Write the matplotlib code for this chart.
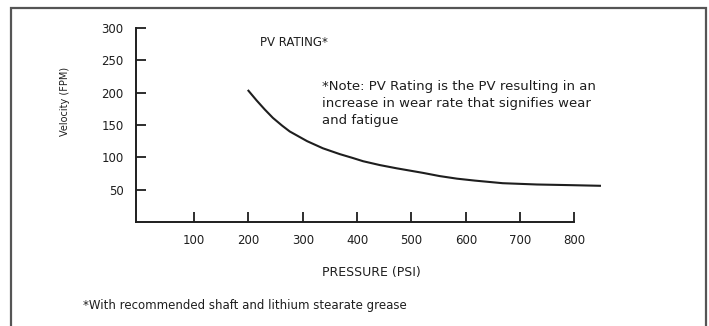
import matplotlib.pyplot as plt
from matplotlib.patches import Rectangle

# PV rating curve
pressure = [200, 215, 230, 245, 262, 276, 308, 337, 368, 392, 411, 442, 473,
            521, 552, 584, 617, 668, 731, 792, 847]
velocity = [203, 188, 174, 161, 149, 140, 125, 114, 105, 99, 94, 88, 83,
            76, 71, 67, 64, 60, 58, 57, 56]

x_ticks = [100, 200, 300, 400, 500, 600, 700, 800]
y_ticks = [50, 100, 150, 200, 250, 300]

INK = '#1e1e1e'
W, H = 709, 326

fig = plt.figure(figsize=(W / 100, H / 100), dpi=100)
fig.patch.set_facecolor('white')

# outer frame of the figure
fig.patches.append(Rectangle((11 / W, -0.05), (706 - 11) / W, (H - 8) / H + 0.05,
                             transform=fig.transFigure, fill=False,
                             edgecolor='#555555', linewidth=1.6))

left_px, right_px, top_px, bottom_px = 136, 607, 28, 222
ax = fig.add_axes([left_px / W, 1 - bottom_px / H,
                   (right_px - left_px) / W, (bottom_px - top_px) / H])

ax.plot(pressure, velocity, color=INK, linewidth=1.5, clip_on=False)

ax.set_xlim(-7, 860)
ax.set_ylim(0, 300)
ax.set_xticks(x_ticks)
ax.set_yticks(y_ticks)

for s in ['top', 'right']:
    ax.spines[s].set_visible(False)
for s in ['left', 'bottom']:
    ax.spines[s].set_color(INK)
    ax.spines[s].set_linewidth(1.4)
ax.spines['bottom'].set_bounds(-7, 800)

ax.tick_params(axis='both', direction='in', length=7, width=1.3, colors=INK,
               labelsize=8.5, pad=9)

ax.set_xlabel('PRESSURE (PSI)', fontsize=9, color=INK, labelpad=13)
fig.text(65 / W, 1 - 101 / H, 'Velocity (FPM)', rotation=90, ha='center', va='center',
         fontsize=7, color=INK)

fig.text(260 / W, 1 - 43 / H, 'PV RATING*', ha='left', va='center',
         fontsize=8.5, color=INK)
fig.text(322 / W, 1 - 80 / H,
         '*Note: PV Rating is the PV resulting in an\n'
         'increase in wear rate that signifies wear\n'
         'and fatigue',
         ha='left', va='top', fontsize=9.5, color=INK, linespacing=1.42)

fig.text(83 / W, 1 - 305 / H, '*With recommended shaft and lithium stearate grease',
         ha='left', va='center', fontsize=8.5, color=INK)

fig.savefig('out.png', dpi=100, facecolor='white')
